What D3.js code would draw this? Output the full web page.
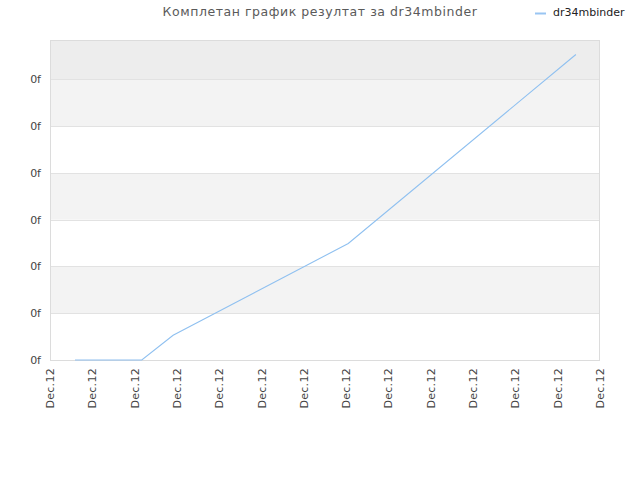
<!DOCTYPE html>
<html>
<head>
<meta charset="utf-8">
<script src="https://cdn.jsdelivr.net/npm/d3@7.9.0/dist/d3.min.js"></script>
<style>
  body { margin: 0; background: #fff; }
  svg text { font-family: "DejaVu Sans", sans-serif; }
</style>
</head>
<body>
<svg id="chart" width="640" height="480"></svg>
<script>
const title      = 'Комплетан график резултат за dr34mbinder';
const seriesName = 'dr34mbinder';
const xTickLabels = ['Dec.12','Dec.12','Dec.12','Dec.12','Dec.12','Dec.12','Dec.12',
                     'Dec.12','Dec.12','Dec.12','Dec.12','Dec.12','Dec.12','Dec.12'];
const yTicks  = [0, 1, 2, 3, 4, 5, 6];
const yLabels = ['0f','0f','0f','0f','0f','0f','0f'];
// positions in tick units along x, values along y
const xs = [0.59, 2.17, 2.91, 7.05, 12.43];
const ys = [0.0, 0.0, 0.53, 2.49, 6.53];

const W = 640, H = 480;
const m = { left: 50, right: 40, top: 40, bottom: 120 };
const svg = d3.select('#chart');

const x = d3.scaleLinear().domain([0, xTickLabels.length - 1]).range([m.left, W - m.right]);
const y = d3.scaleLinear().domain([0, 6.84]).range([H - m.bottom, m.top]);

// bands
const edges = [0, ...yTicks.slice(1), 6.84];
const bandFill = ['#ffffff', '#f3f3f3', '#ffffff', '#f3f3f3', '#ffffff', '#f3f3f3', '#ededed'];
svg.append('g').selectAll('rect')
  .data(d3.range(edges.length - 1))
  .join('rect')
    .attr('x', m.left)
    .attr('width', W - m.right - m.left)
    .attr('y', i => y(edges[i + 1]))
    .attr('height', i => y(edges[i]) - y(edges[i + 1]))
    .attr('fill', i => bandFill[i]);

// grid lines
svg.append('g').selectAll('line')
  .data(yTicks.slice(1))
  .join('line')
    .attr('x1', m.left).attr('x2', W - m.right)
    .attr('y1', d => Math.round(y(d)) + 0.5).attr('y2', d => Math.round(y(d)) + 0.5)
    .attr('stroke', '#e2e2e2');

// frame
svg.append('rect')
  .attr('x', m.left + 0.5).attr('y', m.top + 0.5)
  .attr('width', W - m.right - m.left - 1).attr('height', H - m.bottom - m.top)
  .attr('fill', 'none').attr('stroke', '#dcdcdc');

// y axis labels
svg.append('g').selectAll('text')
  .data(yTicks)
  .join('text')
    .attr('x', m.left - 9)
    .attr('y', d => y(d) + 4)
    .attr('text-anchor', 'end')
    .attr('font-size', 11)
    .attr('fill', '#444')
    .text((d, i) => yLabels[i]);

// x axis labels
svg.append('g').selectAll('text')
  .data(xTickLabels)
  .join('text')
    .attr('transform', (d, i) => `translate(${x(i) + 4},${H - m.bottom + 8}) rotate(-90)`)
    .attr('text-anchor', 'end')
    .attr('font-size', 11)
    .attr('letter-spacing', 0.3)
    .attr('fill', '#444')
    .text(d => d);

// line
const line = d3.line().x(d => x(d[0])).y(d => y(d[1]));
svg.append('path')
  .datum(xs.map((v, i) => [v, ys[i]]))
  .attr('d', line)
  .attr('fill', 'none')
  .attr('stroke', '#8fc0f0')
  .attr('stroke-width', 1.1);

// title
svg.append('text')
  .attr('x', 320).attr('y', 16)
  .attr('text-anchor', 'middle')
  .attr('font-size', 12.5)
  .attr('letter-spacing', 0.55)
  .attr('fill', '#5a5a5a')
  .text(title);

// legend
svg.append('line')
  .attr('x1', 535).attr('x2', 546)
  .attr('y1', 13.5).attr('y2', 13.5)
  .attr('stroke', '#99c5f2').attr('stroke-width', 2);
svg.append('text')
  .attr('x', 553).attr('y', 16)
  .attr('font-size', 11)
  .attr('fill', '#222')
  .text(seriesName);
</script>
</body>
</html>
